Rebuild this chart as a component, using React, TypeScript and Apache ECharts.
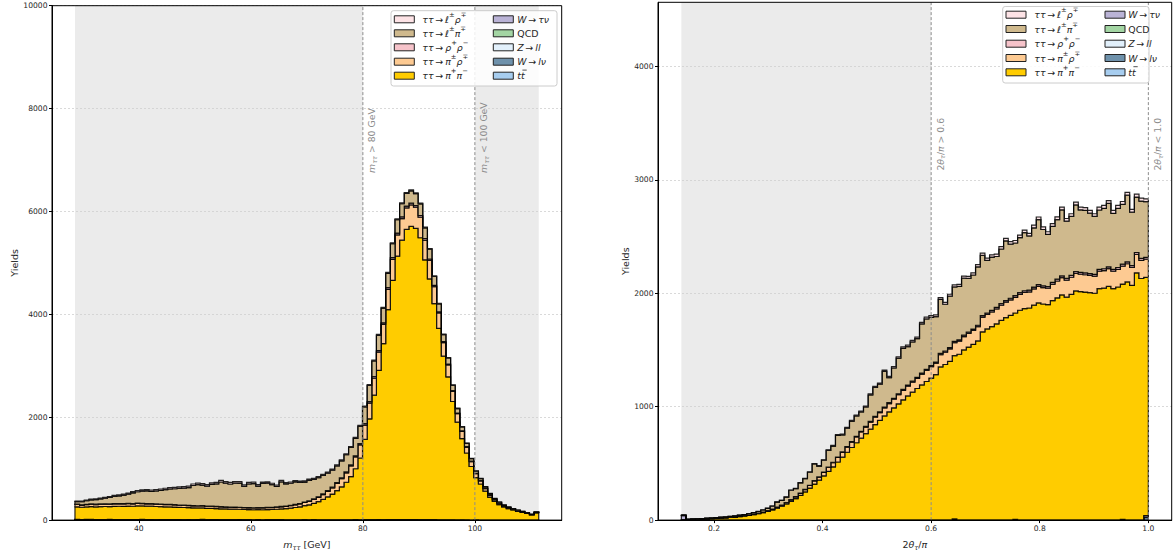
import React, { useEffect, useRef } from "react";
import * as echarts from "echarts";

const FONT = "DejaVu Sans";

// ---------------- data ----------------
const massRange = [28.6, 111.4];
const angRange = [0.14, 1.0];
const massXTicks = [40, 60, 80, 100];
const angXTicks = [0.2, 0.4, 0.6, 0.8, 1.0];
const massYTicks = [0, 2000, 4000, 6000, 8000, 10000];
const angYTicks = [0, 1000, 2000, 3000, 4000];
const massCuts = [80, 100];
const angCuts = [0.6, 1.0];
const massVeto = [[28.6, 80], [100, 111.4]];
const angVeto = [[0.14, 0.6]];

// left panel (m_tautau), 100 bins
const L_pipi = [
  245, 238, 242, 248, 245, 250, 252, 248, 255, 258,
  256, 262, 258, 265, 262, 260, 258, 255, 250, 248,
  246, 242, 238, 236, 232, 230, 226, 224, 220, 218,
  214, 212, 208, 205, 204, 200, 198, 196, 194, 193,
  194, 196, 198, 202, 208, 215, 225, 238, 252, 272,
  290, 318, 352, 395, 445, 500, 565, 640, 730, 840,
  990, 1200, 1560, 1960, 2420, 2900, 3420, 4080, 4650, 5120,
  5430, 5640, 5700, 5660, 5480, 5050, 4680, 4200, 3720, 3180,
  2780, 2300, 1900, 1580, 1300, 1040, 820, 700, 560, 445,
  360, 300, 255, 222, 195, 168, 150, 128, 100, 140,
];
const L_pirho = [
  45, 42, 44, 46, 45, 47, 46, 45, 48, 46,
  47, 46, 45, 47, 46, 45, 44, 44, 43, 42,
  42, 41, 40, 40, 39, 39, 38, 38, 37, 37,
  36, 36, 35, 35, 35, 34, 34, 34, 35, 35,
  36, 37, 38, 40, 42, 45, 48, 52, 56, 62,
  68, 75, 84, 95, 108, 122, 140, 160, 182, 205,
  230, 255, 280, 305, 330, 355, 375, 395, 408, 415,
  420, 420, 418, 412, 400, 385, 360, 330, 300, 265,
  230, 195, 165, 140, 115, 95, 78, 62, 50, 40,
  33, 27, 22, 18, 15, 13, 11, 9, 7, 9,
];
const L_rhorho = [
  6, 5, 6, 6, 7, 6, 6, 7, 6, 6,
  7, 6, 6, 7, 6, 6, 6, 6, 5, 6,
  6, 5, 5, 6, 5, 5, 5, 5, 5, 5,
  5, 5, 5, 4, 5, 5, 4, 5, 4, 5,
  5, 5, 5, 5, 6, 6, 6, 7, 7, 8,
  8, 9, 10, 11, 12, 13, 15, 16, 18, 20,
  22, 24, 26, 28, 30, 31, 32, 33, 34, 34,
  34, 34, 34, 33, 32, 30, 28, 26, 23, 20,
  18, 15, 13, 11, 9, 8, 6, 5, 4, 4,
  3, 3, 2, 2, 2, 2, 1, 1, 1, 1,
];
const L_lpi = [
  50, 62, 70, 78, 90, 100, 110, 125, 140, 150,
  165, 178, 210, 220, 235, 245, 240, 255, 270, 285,
  300, 310, 322, 330, 345, 390, 410, 400, 390, 425,
  440, 480, 460, 450, 465, 470, 410, 460, 470, 420,
  470, 470, 440, 400, 480, 430, 430, 440, 410, 390,
  400, 380, 370, 360, 340, 330, 325, 330, 335, 340,
  340, 335, 325, 315, 305, 295, 285, 278, 270, 262,
  255, 245, 240, 232, 225, 205, 190, 172, 152, 135,
  118, 102, 88, 76, 64, 52, 44, 37, 30, 24,
  20, 16, 13, 11, 9, 8, 7, 6, 5, 6,
];
const L_lrho = [
  10, 12, 12, 14, 15, 16, 16, 18, 18, 20,
  20, 22, 22, 24, 24, 25, 25, 26, 26, 27,
  27, 28, 28, 28, 29, 29, 30, 30, 30, 30,
  30, 30, 30, 30, 30, 29, 29, 29, 28, 28,
  28, 27, 27, 26, 26, 25, 25, 24, 24, 23,
  23, 22, 22, 21, 21, 20, 20, 20, 19, 19,
  19, 19, 18, 18, 18, 18, 17, 17, 17, 17,
  16, 16, 16, 16, 15, 15, 14, 13, 12, 11,
  10, 9, 8, 7, 6, 5, 5, 4, 4, 3,
  3, 3, 2, 2, 2, 2, 1, 1, 1, 1,
];
const L_wtaunu = [
  1, 1, 0, 1, 1, 0, 1, 1, 1, 0,
  1, 0, 1, 1, 0, 1, 1, 0, 1, 1,
  0, 1, 1, 0, 1, 0, 1, 1, 0, 1,
  1, 0, 1, 0, 1, 1, 0, 1, 0, 1,
  0, 1, 1, 0, 1, 0, 1, 0, 1, 1,
  0, 1, 0, 1, 1, 0, 1, 1, 0, 1,
  1, 0, 1, 1, 0, 1, 0, 1, 1, 0,
  1, 1, 0, 1, 0, 1, 0, 1, 0, 0,
  1, 0, 0, 1, 0, 0, 1, 0, 0, 0,
  0, 1, 0, 0, 0, 0, 0, 0, 0, 0,
];
const L_qcd = [
  0, 0, 3, 0, 0, 0, 0, 2, 0, 0,
  0, 0, 0, 0, 3, 0, 0, 0, 0, 0,
  2, 0, 0, 0, 0, 0, 0, 3, 0, 0,
  0, 0, 0, 0, 0, 2, 0, 0, 0, 0,
  0, 0, 0, 3, 0, 0, 0, 0, 0, 0,
  0, 2, 0, 0, 0, 0, 0, 0, 0, 0,
  0, 0, 0, 0, 0, 0, 0, 0, 0, 0,
  0, 0, 0, 0, 0, 0, 0, 0, 0, 0,
  0, 0, 0, 0, 0, 0, 0, 0, 0, 0,
  0, 0, 0, 0, 0, 0, 0, 0, 0, 0,
];
const L_zll = [
  9, 8, 8, 9, 8, 7, 8, 8, 7, 8,
  7, 8, 7, 7, 8, 7, 7, 6, 7, 7,
  6, 7, 6, 6, 7, 6, 6, 6, 5, 6,
  6, 5, 6, 5, 5, 6, 5, 5, 5, 5,
  5, 5, 5, 4, 5, 5, 4, 5, 4, 5,
  4, 4, 5, 4, 4, 4, 4, 4, 4, 4,
  5, 5, 5, 6, 6, 7, 7, 8, 8, 8,
  8, 8, 8, 7, 7, 6, 6, 5, 5, 4,
  4, 4, 3, 3, 3, 2, 2, 2, 2, 2,
  2, 1, 1, 1, 1, 1, 1, 1, 1, 1,
];
const L_wlnu = [
  3, 2, 3, 3, 2, 3, 2, 3, 3, 2,
  3, 2, 2, 3, 2, 2, 3, 2, 2, 2,
  2, 2, 3, 2, 2, 2, 2, 2, 2, 2,
  2, 2, 1, 2, 2, 1, 2, 2, 1, 2,
  1, 2, 1, 1, 2, 1, 1, 1, 1, 1,
  1, 1, 1, 1, 1, 1, 1, 1, 1, 1,
  1, 1, 1, 1, 1, 1, 1, 1, 1, 1,
  1, 1, 1, 1, 1, 1, 1, 1, 0, 1,
  0, 1, 0, 0, 1, 0, 0, 0, 0, 0,
  0, 0, 0, 0, 0, 0, 0, 0, 0, 0,
];
const L_ttbar = [
  1, 1, 1, 1, 1, 1, 1, 1, 1, 1,
  1, 1, 1, 1, 1, 1, 1, 1, 1, 1,
  1, 1, 1, 1, 1, 1, 1, 1, 1, 1,
  1, 1, 1, 1, 1, 1, 1, 1, 1, 1,
  1, 1, 1, 1, 1, 1, 1, 1, 1, 1,
  1, 1, 1, 1, 1, 1, 1, 1, 1, 1,
  1, 1, 1, 1, 1, 1, 1, 1, 1, 1,
  1, 1, 1, 1, 1, 1, 1, 1, 1, 1,
  0, 1, 0, 1, 0, 0, 1, 0, 0, 0,
  0, 0, 0, 0, 0, 0, 0, 0, 0, 0,
];

// right panel (2 theta_tau / pi), 100 bins
const R_pipi = [
  2, 3, 5, 7, 9, 11, 13, 15, 17, 20,
  23, 27, 31, 36, 42, 48, 56, 65, 76, 90,
  105, 122, 142, 165, 190, 218, 248, 282, 318, 352,
  390, 430, 470, 512, 555, 598, 640, 682, 722, 762,
  802, 842, 880, 918, 955, 990, 1025, 1060, 1095, 1128,
  1160, 1192, 1222, 1252, 1282, 1350, 1372, 1400, 1440, 1462,
  1500, 1525, 1550, 1580, 1660, 1685, 1705, 1730, 1760, 1785,
  1805, 1820, 1850, 1865, 1870, 1895, 1915, 1905, 1900, 1935,
  1960, 1985, 1965, 1990, 2020, 2015, 2010, 2005, 2000, 2040,
  2045, 2060, 2040, 2055, 2075, 2100, 2070, 2180, 2130, 2100,
];
const R_pirho = [
  0, 1, 1, 1, 1, 1, 1, 1, 2, 2,
  2, 2, 2, 3, 3, 4, 4, 5, 6, 7,
  9, 10, 11, 14, 15, 18, 20, 23, 27, 26,
  30, 34, 36, 40, 42, 45, 48, 52, 55, 58,
  62, 65, 68, 72, 72, 76, 80, 84, 86, 88,
  90, 95, 97, 100, 102, 108, 108, 110, 114, 115,
  118, 120, 122, 125, 130, 128, 130, 132, 134, 136,
  137, 138, 140, 142, 142, 144, 146, 145, 144, 146,
  148, 152, 150, 151, 154, 153, 153, 152, 151, 155,
  155, 157, 155, 156, 158, 160, 157, 162, 160, 160,
];
const R_rhorho = [
  0, 0, 0, 0, 0, 0, 0, 0, 0, 0,
  0, 0, 0, 0, 0, 1, 1, 1, 1, 1,
  1, 1, 1, 1, 2, 2, 2, 2, 3, 3,
  3, 3, 4, 4, 4, 5, 5, 5, 6, 6,
  6, 7, 7, 7, 8, 8, 8, 8, 9, 9,
  9, 10, 10, 10, 10, 11, 11, 11, 12, 12,
  12, 12, 12, 13, 13, 13, 14, 14, 14, 14,
  14, 15, 15, 15, 15, 15, 15, 15, 15, 15,
  16, 16, 16, 16, 16, 16, 16, 16, 16, 16,
  16, 16, 16, 16, 17, 17, 17, 17, 17, 17,
];
const R_lpi = [
  3, 4, 4, 4, 4, 5, 6, 6, 7, 7,
  8, 9, 10, 10, 12, 13, 15, 18, 21, 25,
  44, 41, 49, 83, 71, 90, 95, 115, 147, 95,
  105, 147, 143, 191, 151, 162, 180, 179, 171, 171,
  233, 256, 243, 314, 221, 268, 315, 362, 339, 346,
  341, 433, 445, 426, 399, 477, 412, 453, 480, 472,
  503, 474, 477, 515, 530, 463, 470, 448, 482, 527,
  477, 464, 486, 512, 478, 523, 573, 497, 460, 494,
  525, 582, 504, 520, 589, 551, 552, 533, 510, 523,
  533, 559, 494, 522, 528, 588, 471, 489, 506, 490,
];
const R_lrho = [
  0, 0, 0, 0, 0, 0, 0, 0, 0, 0,
  0, 0, 0, 0, 1, 1, 1, 1, 1, 1,
  1, 1, 2, 2, 2, 2, 3, 3, 3, 4,
  4, 5, 5, 6, 6, 7, 7, 8, 8, 9,
  9, 10, 10, 11, 11, 12, 12, 13, 13, 14,
  14, 14, 15, 15, 16, 16, 16, 17, 17, 17,
  18, 18, 19, 19, 20, 20, 20, 21, 21, 21,
  22, 22, 22, 22, 22, 23, 23, 23, 23, 23,
  24, 24, 24, 24, 24, 24, 24, 24, 24, 25,
  25, 25, 25, 25, 25, 25, 25, 26, 26, 25,
];
const R_wtaunu = [
  35, 0, 0, 0, 0, 0, 0, 0, 0, 0,
  0, 0, 0, 0, 0, 0, 0, 0, 0, 0,
  0, 0, 0, 0, 0, 0, 0, 0, 0, 0,
  0, 0, 0, 0, 0, 0, 0, 0, 0, 0,
  0, 0, 0, 0, 0, 0, 0, 0, 0, 0,
  0, 0, 0, 0, 0, 0, 0, 0, 4, 0,
  0, 0, 0, 0, 0, 0, 0, 0, 0, 0,
  0, 0, 0, 0, 0, 0, 0, 0, 0, 0,
  0, 0, 0, 0, 0, 0, 0, 0, 0, 0,
  0, 0, 0, 0, 0, 0, 0, 0, 0, 15,
];
const R_qcd = [
  0, 0, 0, 0, 0, 0, 0, 0, 0, 0,
  0, 0, 0, 0, 0, 0, 0, 0, 0, 0,
  0, 0, 0, 0, 0, 0, 0, 0, 0, 0,
  0, 0, 0, 0, 0, 0, 0, 0, 0, 0,
  0, 0, 0, 0, 0, 0, 0, 0, 0, 0,
  0, 0, 0, 0, 0, 0, 0, 0, 0, 0,
  0, 0, 0, 0, 0, 0, 0, 0, 0, 0,
  0, 0, 0, 0, 0, 0, 0, 0, 0, 0,
  0, 0, 0, 0, 0, 0, 0, 0, 0, 0,
  0, 0, 0, 0, 0, 0, 0, 0, 0, 0,
];
const R_zll = [
  0, 0, 0, 0, 0, 0, 0, 0, 0, 0,
  0, 0, 0, 0, 0, 0, 0, 0, 0, 0,
  0, 0, 0, 0, 0, 0, 0, 0, 0, 0,
  0, 0, 0, 0, 0, 0, 0, 0, 0, 0,
  0, 0, 0, 0, 0, 0, 0, 0, 0, 0,
  0, 0, 0, 0, 0, 0, 0, 0, 0, 0,
  0, 0, 0, 0, 0, 0, 0, 0, 0, 0,
  0, 0, 0, 0, 0, 0, 0, 0, 0, 0,
  0, 0, 0, 0, 0, 0, 0, 0, 0, 0,
  0, 0, 0, 0, 0, 0, 0, 0, 0, 0,
];
const R_wlnu = [
  3, 0, 0, 0, 0, 0, 0, 0, 0, 0,
  0, 0, 0, 0, 0, 0, 0, 0, 0, 0,
  0, 0, 0, 0, 0, 0, 0, 0, 0, 0,
  0, 0, 0, 0, 0, 0, 0, 0, 0, 0,
  0, 0, 0, 0, 0, 0, 0, 0, 0, 0,
  0, 0, 0, 0, 0, 0, 0, 0, 0, 0,
  0, 0, 0, 0, 0, 0, 0, 0, 0, 0,
  0, 0, 0, 0, 0, 0, 0, 0, 0, 0,
  0, 0, 0, 0, 0, 0, 0, 0, 0, 0,
  0, 0, 0, 0, 0, 0, 0, 0, 0, 3,
];
const R_ttbar = [
  2, 0, 0, 0, 0, 0, 0, 0, 0, 0,
  0, 0, 0, 0, 0, 0, 0, 0, 0, 0,
  0, 0, 0, 0, 0, 0, 0, 0, 0, 0,
  0, 0, 0, 0, 0, 0, 0, 0, 0, 0,
  0, 0, 0, 0, 0, 0, 0, 0, 0, 0,
  0, 0, 0, 0, 0, 0, 0, 0, 6, 0,
  0, 0, 0, 0, 0, 0, 0, 0, 0, 0,
  0, 6, 0, 0, 0, 0, 0, 0, 0, 0,
  0, 0, 0, 0, 0, 0, 0, 0, 0, 0,
  0, 0, 0, 0, 6, 0, 0, 0, 0, 22,
];

const leftLayers: Record<string, number[]> = {
  pipi: L_pipi, pirho: L_pirho, rhorho: L_rhorho, lpi: L_lpi, lrho: L_lrho,
  wtaunu: L_wtaunu, qcd: L_qcd, zll: L_zll, wlnu: L_wlnu, ttbar: L_ttbar,
};
const rightLayers: Record<string, number[]> = {
  pipi: R_pipi, pirho: R_pirho, rhorho: R_rhorho, lpi: R_lpi, lrho: R_lrho,
  wtaunu: R_wtaunu, qcd: R_qcd, zll: R_zll, wlnu: R_wlnu, ttbar: R_ttbar,
};

// stacking order, bottom -> top
const stackOrder = ["ttbar", "wlnu", "zll", "qcd", "wtaunu", "pipi", "pirho", "rhorho", "lpi", "lrho"];
const legendCol1 = ["lrho", "lpi", "rhorho", "pirho", "pipi"];
const legendCol2 = ["wtaunu", "qcd", "zll", "wlnu", "ttbar"];

const ARROW = "{n|\u2009→\u2009}";
const processLabels: Record<string, string> = {
  lrho: "{g|ττ}" + ARROW + "{g|ℓ}{u|±}{g|ρ}{u|∓}",
  lpi: "{g|ττ}" + ARROW + "{g|ℓ}{u|±}{g|π}{u|∓}",
  rhorho: "{g|ττ}" + ARROW + "{g|ρ}{u|+}{g|ρ}{u|−}",
  pirho: "{g|ττ}" + ARROW + "{g|π}{u|±}{g|ρ}{u|∓}",
  pipi: "{g|ττ}" + ARROW + "{g|π}{u|+}{g|π}{u|−}",
  wtaunu: "{g|W}" + ARROW + "{g|τν}",
  qcd: "{n|QCD}",
  zll: "{g|Z}" + ARROW + "{g|ll}",
  wlnu: "{g|W}" + ARROW + "{g|lν}",
  ttbar: "{g|tt}",
};

const COLORS: Record<string, string> = {
  lrho: "#fde3e6",
  lpi: "#cfb98d",
  rhorho: "#f6c3ca",
  pirho: "#fdca92",
  pipi: "#ffcc00",
  wtaunu: "#bab3d6",
  qcd: "#a3d5a3",
  zll: "#e2f0fb",
  wlnu: "#6e91ab",
  ttbar: "#a7cdef",
};

const massCutLabels = ["{i|m}{d|ττ}{n| > 80 GeV}", "{i|m}{d|ττ}{n| < 100 GeV}"];
const angCutLabels = ["{n|2}{i|θ}{d|τ}{n|/}{i|π}{n| > 0.6}", "{n|2}{i|θ}{d|τ}{n|/}{i|π}{n| < 1.0}"];

// ---------------- helpers ----------------
function richSet(fs: number, color: string) {
  const lh = Math.round(fs * 1.4);
  return {
    n: { fontSize: fs, fontFamily: FONT, color, lineHeight: lh },
    i: { fontSize: fs, fontFamily: FONT, color, fontStyle: "italic", lineHeight: lh },
    g: { fontSize: fs, fontFamily: FONT, color, fontStyle: "italic", lineHeight: lh },
    u: { fontSize: fs * 0.72, fontFamily: FONT, color, lineHeight: lh * 0.35, padding: [0, 0, lh * 0.65, 0] },
    d: { fontSize: fs * 0.7, fontFamily: FONT, color, fontStyle: "italic", lineHeight: lh * 0.5, padding: [lh * 0.5, 0, 0, 0] },
  };
}

function histSeries(gi: number, range: number[], layers: Record<string, number[]>) {
  const n = layers.pipi.length;
  const edges = Array.from({ length: n + 1 }, (_, i) => range[0] + ((range[1] - range[0]) * i) / n);
  let base = new Array(n).fill(0);
  const out: any[] = [];
  stackOrder.forEach((key) => {
    const vals = layers[key];
    const lo = base.slice();
    const top = base.map((b: number, i: number) => b + vals[i]);
    out.push({
      type: "custom",
      name: key,
      xAxisIndex: gi,
      yAxisIndex: gi,
      z: 3,
      silent: true,
      data: [[edges[0], 0]],
      encode: { x: 0, y: 1 },
      itemStyle: { color: COLORS[key], borderColor: "#000", borderWidth: 1 },
      renderItem: (_p: any, api: any) => {
        const pts: number[][] = [];
        for (let i = 0; i < n; i++) {
          pts.push(api.coord([edges[i], top[i]]));
          pts.push(api.coord([edges[i + 1], top[i]]));
        }
        for (let i = n - 1; i >= 0; i--) {
          pts.push(api.coord([edges[i + 1], lo[i]]));
          pts.push(api.coord([edges[i], lo[i]]));
        }
        return {
          type: "polygon",
          shape: { points: pts },
          style: { fill: COLORS[key], stroke: "rgba(0,0,0,0.85)", lineWidth: 1.2, lineJoin: "miter" },
        };
      },
    });
    base = top;
  });
  return out;
}

function vetoSeries(gi: number, veto: number[][], yMax: number) {
  return {
    type: "custom",
    xAxisIndex: gi,
    yAxisIndex: gi,
    z: 0,
    silent: true,
    data: veto,
    encode: { x: [0, 1] },
    renderItem: (_p: any, api: any) => {
      const a = api.coord([api.value(0), yMax]);
      const b = api.coord([api.value(1), 0]);
      return {
        type: "rect",
        shape: { x: a[0], y: a[1], width: b[0] - a[0], height: b[1] - a[1] },
        style: { fill: "#ebebeb" },
      };
    },
  };
}

function cutSeries(gi: number, cuts: number[], labels: string[], yMax: number, labelFrac: number) {
  return {
    type: "custom",
    xAxisIndex: gi,
    yAxisIndex: gi,
    z: 5,
    silent: true,
    data: cuts.map((c) => [c, 0]),
    encode: { x: 0, y: 1 },
    renderItem: (p: any, api: any) => {
      const x = api.value(0);
      const a = api.coord([x, 0]);
      const b = api.coord([x, yMax]);
      const t = api.coord([x, yMax * labelFrac]);
      return {
        type: "group",
        children: [
          {
            type: "line",
            shape: { x1: a[0], y1: a[1], x2: b[0], y2: b[1] },
            style: { stroke: "#8c8c8c", lineWidth: 1, lineDash: [3, 2] },
          },
          {
            type: "text",
            x: t[0] + 9,
            y: t[1],
            rotation: Math.PI / 2,
            style: {
              text: labels[p.dataIndex],
              rich: richSet(9.3, "#8c8c8c"),
              fill: "#8c8c8c",
              fontFamily: FONT,
              fontSize: 9.3,
              align: "left",
              verticalAlign: "middle",
            },
          },
        ],
      };
    },
  };
}

const tickFont = { fontSize: 7.6, fontFamily: FONT, color: "#262626" };

function xAxisCfg(gi: number, min: number, max: number, ticks: number[], name: string, fmt: (v: number) => string) {
  return {
    type: "value",
    gridIndex: gi,
    min,
    max,
    z: 1,
    axisLine: { show: true, onZero: false, lineStyle: { color: "#000", width: 1 } },
    axisTick: { show: true, customValues: ticks, length: 3, lineStyle: { color: "#000" } },
    axisLabel: { customValues: ticks, margin: 4.5, ...tickFont, formatter: fmt },
    splitLine: { show: false },
    name,
    nameLocation: "middle",
    nameGap: 14,
    nameTextStyle: { fontFamily: FONT, fontSize: 9.5, color: "#262626", rich: richSet(9.5, "#262626") },
  };
}

function yAxisCfg(gi: number, max: number, ticks: number[], interval: number, nameGap: number) {
  return {
    type: "value",
    gridIndex: gi,
    min: 0,
    max,
    interval,
    z: 1,
    axisLine: { show: true, lineStyle: { color: "#000", width: 1 } },
    axisTick: { show: true, customValues: ticks, length: 3, lineStyle: { color: "#000" } },
    axisLabel: { customValues: ticks, margin: 4.5, ...tickFont, formatter: (v: number) => String(v) },
    splitLine: { show: true, lineStyle: { color: "#cfcfcf", width: 0.8, type: [2, 2] } },
    name: "Yields",
    nameLocation: "middle",
    nameRotate: 90,
    nameGap,
    nameTextStyle: { fontFamily: FONT, fontSize: 9.5, color: "#262626" },
  };
}

const LEG_FS = 9.4;

// Legend drawn as graphic elements: frame, 2 columns x 5 rows of icon + label
function legendGraphics(
  frame: { x: number; y: number; w: number; h: number },
  rows: number[],
  iconX: number[],
  textX: number[],
) {
  const els: any[] = [
    {
      type: "rect",
      z: 10,
      silent: true,
      shape: { x: frame.x, y: frame.y, width: frame.w, height: frame.h, r: 2.5 },
      style: { fill: "rgba(255,255,255,0.85)", stroke: "#cccccc", lineWidth: 1 },
    },
  ];
  [legendCol1, legendCol2].forEach((col, c) => {
    col.forEach((key, r) => {
      els.push({
        type: "rect",
        z: 11,
        silent: true,
        shape: { x: iconX[c], y: rows[r] - 3.5, width: 20, height: 7 },
        style: { fill: COLORS[key], stroke: "#222", lineWidth: 1 },
      });
      els.push({
        type: "text",
        z: 11,
        silent: true,
        x: textX[c],
        y: rows[r],
        style: {
          text: processLabels[key],
          rich: richSet(LEG_FS, "#262626"),
          fontFamily: FONT,
          fontSize: LEG_FS,
          fill: "#262626",
          align: "left",
          verticalAlign: "middle",
        },
      });
      if (key === "ttbar") {
        els.push({
          type: "line",
          z: 11,
          silent: true,
          shape: { x1: textX[c] + 5.1, y1: rows[r] - 5.6, x2: textX[c] + 9.4, y2: rows[r] - 5.6 },
          style: { stroke: "#262626", lineWidth: 0.8 },
        });
      }
    });
  });
  return els;
}

function buildOption() {
  const massYMax = 10000;
  const angYMax = 4565;
  return {
    animation: false,
    backgroundColor: "#ffffff",
    grid: [
      { left: 52, top: 5.7, width: 509.7, height: 521.8, show: true, borderColor: "#000", borderWidth: 1, backgroundColor: "transparent", z: 6 },
      { left: 658, top: 2.3, width: 513.7, height: 525, show: true, borderColor: "#000", borderWidth: 1, backgroundColor: "transparent", z: 6 },
    ],
    xAxis: [
      xAxisCfg(0, 24.5, 115.5, massXTicks, "{i|m}{d|ττ}{n| [GeV]}", (v: number) => String(v)),
      xAxisCfg(1, 0.097, 1.043, angXTicks, "{n|2}{i|θ}{d|τ}{n|/}{i|π}", (v: number) => v.toFixed(1)),
    ],
    yAxis: [yAxisCfg(0, massYMax, massYTicks, 2000, 33), yAxisCfg(1, angYMax, angYTicks, 1000, 28)],
    graphic: [
      ...legendGraphics({ x: 391, y: 10.7, w: 166, h: 75.3 }, [19.3, 33.3, 47.3, 61.7, 75.7], [394.3, 493.3], [422.3, 517.3]),
      ...legendGraphics({ x: 1002.7, y: 6.5, w: 146.3, h: 76.5 }, [14.7, 29, 43.7, 58, 72.3], [1006, 1105], [1034.3, 1128.3]),
    ],
    series: [
      vetoSeries(0, massVeto, massYMax),
      vetoSeries(1, angVeto, angYMax),
      ...histSeries(0, massRange, leftLayers),
      ...histSeries(1, angRange, rightLayers),
      cutSeries(0, massCuts, massCutLabels, massYMax, 0.675),
      cutSeries(1, angCuts, angCutLabels, angYMax, 0.675),
    ],
  };
}

export default function App() {
  const ref = useRef<HTMLDivElement>(null);
  useEffect(() => {
    document.body.style.margin = "0";
    const chart = echarts.init(ref.current as HTMLDivElement, null, { renderer: "svg" });
    chart.setOption(buildOption() as any);
    return () => chart.dispose();
  }, []);
  return <div ref={ref} style={{ width: 1173, height: 556 }} />;
}
